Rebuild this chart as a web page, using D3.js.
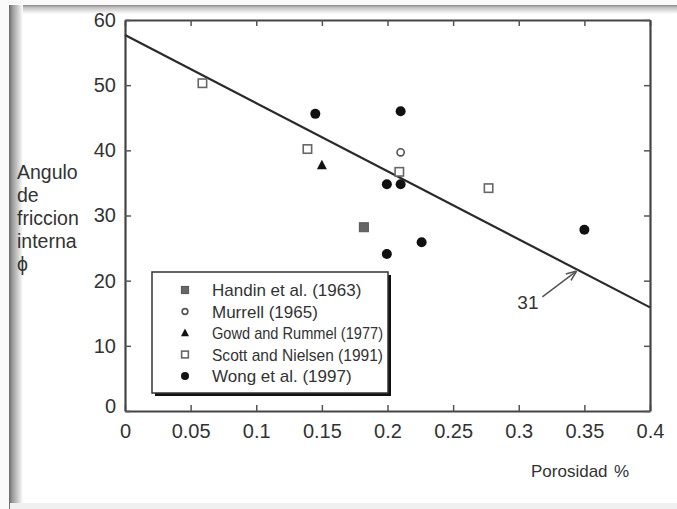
<!DOCTYPE html>
<html><head><meta charset="utf-8">
<script src="https://cdn.jsdelivr.net/npm/d3@7"></script>
<style>html,body{margin:0;padding:0;background:#fff;}svg{display:block;}</style>
</head><body>
<svg id="c" width="677" height="509"></svg>
<script>
// ---- data ----
const xTicks = [0, 0.05, 0.1, 0.15, 0.2, 0.25, 0.3, 0.35, 0.4];
const yTicks = [0, 10, 20, 30, 40, 50, 60];
const xTickLabels = ["0", "0.05", "0.1", "0.15", "0.2", "0.25", "0.3", "0.35", "0.4"];
const handinX = [0.182], handinY = [28.2];
const murrellX = [0.21], murrellY = [39.7];
const gowdX = [0.15], gowdY = [37.7];
const scottX = [0.059, 0.139, 0.209, 0.277], scottY = [50.3, 40.2, 36.7, 34.2];
const wongX = [0.145, 0.21, 0.1995, 0.21, 0.226, 0.1995, 0.35];
const wongY = [45.6, 46.0, 34.8, 34.8, 25.9, 24.1, 27.8];
const fitX = [0, 0.4], fitY = [57.7, 15.9];
const legendLabels = ["Handin et al. (1963)", "Murrell (1965)", "Gowd and Rummel (1977)", "Scott and Nielsen (1991)", "Wong et al. (1997)"];
const legendKinds = ["graysquare", "opencircle", "triangle", "opensquare", "dot"];
const yLabelLines = ["Angulo", "de", "friccion", "interna", "\u03D5"];
const xLabel = "Porosidad", xUnit = "%";
const annText = "31", annTextX = 0.307, annTextY = 15.6;
const arrowFromX = 0.318, arrowFromY = 17.5, arrowToX = 0.3435, arrowToY = 21.4;

// ---- drawing ----
const svg = d3.select("#c");
const FONT = "'Liberation Sans', Arial, Helvetica, sans-serif";
const TXT = "#333";
const defs = svg.append("defs");
const gl = defs.append("linearGradient").attr("id", "gl").attr("x1", 0).attr("x2", 1).attr("y1", 0).attr("y2", 0);
gl.append("stop").attr("offset", 0).attr("stop-color", "#6a6a6a");
gl.append("stop").attr("offset", 0.25).attr("stop-color", "#9a9a9a");
gl.append("stop").attr("offset", 1).attr("stop-color", "#fff");
const gt = defs.append("linearGradient").attr("id", "gt").attr("x1", 0).attr("x2", 0).attr("y1", 0).attr("y2", 1);
gt.append("stop").attr("offset", 0).attr("stop-color", "#8a8a8a");
gt.append("stop").attr("offset", 0.3).attr("stop-color", "#c4c4c4");
gt.append("stop").attr("offset", 1).attr("stop-color", "#fff");
const ah = defs.append("marker").attr("id", "ah").attr("viewBox", "0 0 10 10").attr("refX", 9).attr("refY", 5)
  .attr("markerWidth", 7).attr("markerHeight", 7).attr("orient", "auto");
ah.append("path").attr("d", "M0,1 L10,5 L0,9").attr("fill", "none").attr("stroke", "#555").attr("stroke-width", 1.5);

// frame
svg.append("rect").attr("x", 0).attr("y", 0).attr("width", 677).attr("height", 509).attr("fill", "#fafafa");
svg.append("rect").attr("x", 10).attr("y", 5).attr("width", 667).attr("height", 499).attr("fill", "#fff");
svg.append("rect").attr("x", 10).attr("y", 5).attr("width", 667).attr("height", 9).attr("fill", "url(#gt)");
svg.append("rect").attr("x", 9).attr("y", 5).attr("width", 14).attr("height", 504).attr("fill", "url(#gl)");
svg.append("rect").attr("x", 10).attr("y", 503).attr("width", 667).attr("height", 6).attr("fill", "#f0f0f0");

const x = d3.scaleLinear().domain([0, 0.4]).range([125, 650]);
const y = d3.scaleLinear().domain([0, 60]).range([411, 20]);

function styleAxis(g) {
  g.select(".domain").attr("stroke", "#444").attr("stroke-width", 2.2);
  g.selectAll(".tick line").attr("stroke", "#555").attr("stroke-width", 1.5);
  g.selectAll("text").attr("fill", TXT).attr("font-family", FONT).attr("font-size", 20);
}
const xb = svg.append("g").attr("transform", `translate(0,${y(0)})`)
  .call(d3.axisBottom(x).tickValues(xTicks).tickFormat((d, i) => xTickLabels[i]).tickSizeInner(-6).tickSizeOuter(0).tickPadding(13));
styleAxis(xb);
const xt = svg.append("g").attr("transform", `translate(0,${y(60)})`)
  .call(d3.axisTop(x).tickValues(xTicks).tickFormat("").tickSizeInner(-6).tickSizeOuter(0));
styleAxis(xt);
const yl = svg.append("g").attr("transform", `translate(${x(0)},0)`)
  .call(d3.axisLeft(y).tickValues(yTicks).tickFormat(d3.format("d")).tickSizeInner(-6).tickSizeOuter(0).tickPadding(9));
styleAxis(yl);
yl.selectAll(".tick").filter(d => d === 0).select("text").attr("dy", "0.05em");
const yr = svg.append("g").attr("transform", `translate(${x(0.4)},0)`)
  .call(d3.axisRight(y).tickValues(yTicks).tickFormat("").tickSizeInner(-6).tickSizeOuter(0));
styleAxis(yr);

// fit line
svg.append("path").datum(fitX.map((v, i) => [v, fitY[i]]))
  .attr("d", d3.line().x(d => x(d[0])).y(d => y(d[1])))
  .attr("fill", "none").attr("stroke", "#2a2a2a").attr("stroke-width", 2.2);

// annotation
svg.append("line").attr("x1", x(arrowFromX)).attr("y1", y(arrowFromY)).attr("x2", x(arrowToX)).attr("y2", y(arrowToY))
  .attr("stroke", "#555").attr("stroke-width", 1.5).attr("marker-end", "url(#ah)");
svg.append("text").attr("x", x(annTextX)).attr("y", y(annTextY)).attr("text-anchor", "middle")
  .attr("font-family", FONT).attr("font-size", 19).attr("fill", TXT).text(annText);

// markers
function drawMarker(g, kind, cx, cy, s) {
  if (kind === "dot") g.append("circle").attr("cx", cx).attr("cy", cy).attr("r", 5 * s).attr("fill", "#111");
  else if (kind === "opencircle") g.append("circle").attr("cx", cx).attr("cy", cy).attr("r", 3.6 * s).attr("fill", "#fff").attr("stroke", "#555").attr("stroke-width", 1.6);
  else if (kind === "opensquare") g.append("rect").attr("x", cx - 4.2 * s).attr("y", cy - 4.2 * s).attr("width", 8.4 * s).attr("height", 8.4 * s).attr("fill", "#fff").attr("stroke", "#666").attr("stroke-width", 1.6);
  else if (kind === "graysquare") g.append("rect").attr("x", cx - 4.5 * s).attr("y", cy - 4.5 * s).attr("width", 9 * s).attr("height", 9 * s).attr("fill", "#666").attr("stroke", "#555").attr("stroke-width", 1);
  else if (kind === "triangle") g.append("path").attr("d", `M${cx},${cy - 5.5 * s} L${cx + 5 * s},${cy + 4 * s} L${cx - 5 * s},${cy + 4 * s} Z`).attr("fill", "#111");
}
const pts = svg.append("g");
const series = [[handinX, handinY, "graysquare"], [murrellX, murrellY, "opencircle"], [gowdX, gowdY, "triangle"], [scottX, scottY, "opensquare"], [wongX, wongY, "dot"]];
series.forEach(([xs, ys, kind]) => xs.forEach((v, i) => drawMarker(pts, kind, x(v), y(ys[i]), 1)));

// legend
const lg = svg.append("g");
lg.append("rect").attr("x", 155).attr("y", 275).attr("width", 236).attr("height", 121).attr("fill", "#111");
lg.append("rect").attr("x", 152).attr("y", 272).attr("width", 236).attr("height", 121).attr("fill", "#fff").attr("stroke", "#333").attr("stroke-width", 1.5);
const maxW = 171;
legendLabels.forEach((t, i) => {
  const cy = 290 + i * 21.5;
  drawMarker(lg, legendKinds[i], 185, cy, 0.8);
  const tx = lg.append("text").attr("x", 212).attr("y", cy + 6).attr("font-family", FONT).attr("font-size", 17).attr("fill", TXT).text(t);
  const w = tx.node().getComputedTextLength();
  if (w > maxW) tx.attr("textLength", maxW).attr("lengthAdjust", "spacingAndGlyphs");
});

// axis titles
const ylab = svg.append("text").attr("font-family", FONT).attr("font-size", 19.5).attr("fill", TXT);
yLabelLines.forEach((t, i) => ylab.append("tspan").attr("x", 17).attr("y", 179 + i * 23).text(t));
svg.append("text").attr("x", 531).attr("y", 477).attr("font-family", FONT).attr("font-size", 17).attr("fill", TXT).text(xLabel);
svg.append("text").attr("x", 614).attr("y", 477).attr("font-family", FONT).attr("font-size", 17).attr("fill", TXT).text(xUnit);
</script>
</body></html>
